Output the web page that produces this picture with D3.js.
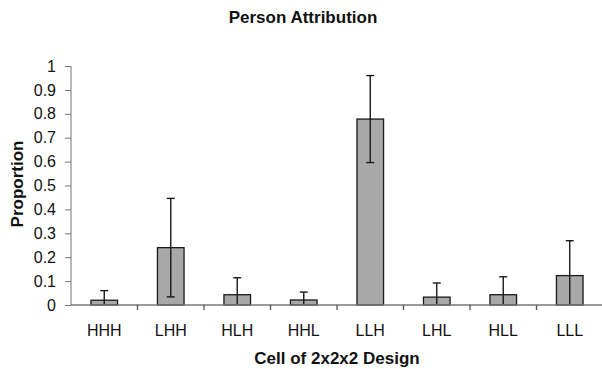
<!DOCTYPE html>
<html>
<head>
<meta charset="utf-8">
<script src="https://cdn.jsdelivr.net/npm/d3@7"></script>
<style>
	body{margin:0;background:#fff;}
	text{font-family:"Liberation Sans",Arial,sans-serif;fill:#111;}
</style>
</head>
<body>
<div class="chart"></div>
<script>
var categories = ['HHH','LHH','HLH','HHL','LLH','LHL','HLL','LLL'];
var proportions = [0.02, 0.24, 0.043, 0.021, 0.778, 0.033, 0.043, 0.123];
var errors = [0.04, 0.206, 0.071, 0.033, 0.182, 0.059, 0.075, 0.146];
var yTicks = [0,0.1,0.2,0.3,0.4,0.5,0.6,0.7,0.8,0.9,1];

var w = 602, h = 369;
var plotLeft = 71, plotRight = 603, plotTop = 66, plotBottom = 305;

var svg = d3.select('.chart')
	.append('svg')
	.attr('width', w)
	.attr('height', h);

var x = d3.scaleBand().domain(categories).range([plotLeft, plotRight]).paddingInner(0.6).paddingOuter(0.3);
var band = d3.scaleBand().domain(categories).range([plotLeft, plotRight]);
var y = d3.scaleLinear().domain([0, 1]).range([plotBottom, plotTop]);

var data = categories.map(function(c, i){ return {name: c, val: proportions[i], err: errors[i]}; });

// bars
svg.selectAll('rect.bar')
	.data(data)
	.enter()
	.append('rect')
	.attr('class','bar')
	.attr('x', function(d){ return x(d.name); })
	.attr('y', function(d){ return y(d.val); })
	.attr('width', x.bandwidth())
	.attr('height', function(d){ return y(0) - y(d.val); })
	.attr('fill','#a8a8a8')
	.attr('stroke','#1a1a1a')
	.attr('stroke-width',1.3);

// error bars
var cx = function(d){ return x(d.name) + x.bandwidth()/2; };
var err = svg.selectAll('g.err').data(data).enter().append('g').attr('class','err')
	.attr('stroke','#1a1a1a').attr('stroke-width',1.4);
err.append('line')
	.attr('x1', cx).attr('x2', cx)
	.attr('y1', function(d){ return y(d.val + d.err); })
	.attr('y2', function(d){ return y(Math.max(0, d.val - d.err)); });
err.append('line')
	.attr('x1', function(d){ return cx(d) - 4; }).attr('x2', function(d){ return cx(d) + 4; })
	.attr('y1', function(d){ return y(d.val + d.err); })
	.attr('y2', function(d){ return y(d.val + d.err); });
err.filter(function(d){ return d.val - d.err > 0; })
	.append('line')
	.attr('x1', function(d){ return cx(d) - 4; }).attr('x2', function(d){ return cx(d) + 4; })
	.attr('y1', function(d){ return y(d.val - d.err); })
	.attr('y2', function(d){ return y(d.val - d.err); });

// y axis
var yAxis = svg.append('g')
	.attr('transform','translate(' + plotLeft + ',0)')
	.call(d3.axisLeft(y).tickValues(yTicks).tickFormat(function(d){ return String(d); }).tickSize(6).tickPadding(9));
yAxis.select('.domain').attr('stroke','#777').attr('d','M0,' + plotTop + 'V' + plotBottom);
yAxis.selectAll('line').attr('stroke','#777');
yAxis.selectAll('text').attr('font-size',16).attr('font-family','"Liberation Sans",Arial,sans-serif').attr('fill','#111');

// x axis line and separators
var xg = svg.append('g');
xg.append('line').attr('x1', plotLeft).attr('x2', plotRight).attr('y1', plotBottom).attr('y2', plotBottom).attr('stroke','#777').attr('stroke-width',1.3);
xg.selectAll('line.sep')
	.data(categories.slice(1))
	.enter()
	.append('line')
	.attr('class','sep')
	.attr('x1', function(d){ return band(d); }).attr('x2', function(d){ return band(d); })
	.attr('y1', plotBottom).attr('y2', plotBottom + 5)
	.attr('stroke','#555').attr('stroke-width',1.3);
xg.selectAll('text.cat')
	.data(categories)
	.enter()
	.append('text')
	.attr('class','cat')
	.attr('x', function(d){ return band(d) + band.bandwidth()/2; })
	.attr('y', 336)
	.attr('text-anchor','middle')
	.attr('font-size',16)
	.text(function(d){ return d; });

// titles
svg.append('text').attr('x', 303).attr('y', 23).attr('text-anchor','middle')
	.attr('font-size',17).attr('font-weight','bold').text('Person Attribution');
svg.append('text').attr('x', 337).attr('y', 364).attr('text-anchor','middle')
	.attr('font-size',17).attr('font-weight','bold').text('Cell of 2x2x2 Design');
svg.append('text').attr('transform','translate(23,184) rotate(-90)').attr('text-anchor','middle')
	.attr('font-size',17).attr('font-weight','bold').text('Proportion');
</script>
</body>
</html>
